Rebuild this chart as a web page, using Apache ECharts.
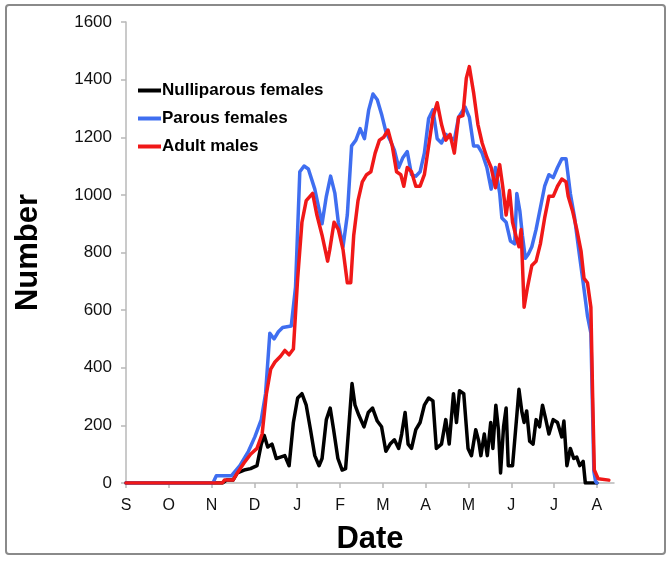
<!DOCTYPE html>
<html>
<head>
<meta charset="utf-8">
<script src="https://cdn.jsdelivr.net/npm/echarts@6/dist/echarts.min.js"></script>
<style>html,body{margin:0;padding:0;background:#fff;}#c{width:672px;height:561px;}</style>
</head>
<body>
<div id="c"></div>
<script>
var monthLabels = ['S','O','N','D','J','F','M','A','M','J','J','A'];
var seriesNames = ['Nulliparous females','Parous females','Adult males'];

// [month offset from 1 Sept, number]
var nulliparous = [[0,0],[2.25,0],[2.35,10],[2.5,10],[2.6,35],[2.76,45],[2.91,50],[3.06,60],[3.16,135],[3.23,165],[3.31,125],[3.41,135],[3.51,85],[3.61,90],[3.71,95],[3.81,60],[3.91,210],[4.01,295],[4.11,310],[4.21,270],[4.31,185],[4.41,95],[4.51,60],[4.58,85],[4.68,220],[4.77,260],[4.85,185],[4.95,85],[5.05,45],[5.13,50],[5.2,185],[5.28,345],[5.35,270],[5.44,235],[5.56,195],[5.66,245],[5.76,260],[5.87,215],[5.97,195],[6.07,110],[6.17,135],[6.27,150],[6.37,120],[6.44,170],[6.52,245],[6.59,135],[6.67,120],[6.77,185],[6.87,210],[6.97,270],[7.07,295],[7.17,285],[7.25,120],[7.37,135],[7.47,220],[7.55,135],[7.65,310],[7.72,210],[7.79,320],[7.89,310],[7.99,120],[8.07,95],[8.17,185],[8.24,145],[8.29,95],[8.37,170],[8.44,95],[8.52,210],[8.57,120],[8.64,270],[8.7,185],[8.75,35],[8.82,195],[8.88,260],[8.93,60],[9.03,60],[9.13,235],[9.18,325],[9.25,245],[9.3,210],[9.36,250],[9.43,145],[9.51,135],[9.58,220],[9.66,195],[9.73,270],[9.8,225],[9.88,170],[9.98,220],[10.08,210],[10.18,160],[10.23,215],[10.3,60],[10.38,120],[10.46,85],[10.53,90],[10.6,60],[10.68,75],[10.73,0],[11.0,0]];

var parous = [[0,0],[2.03,0],[2.11,25],[2.46,25],[2.66,60],[2.86,110],[3.01,160],[3.16,220],[3.26,310],[3.36,520],[3.46,500],[3.56,525],[3.66,540],[3.86,545],[3.96,680],[4.06,1080],[4.16,1100],[4.26,1090],[4.41,1020],[4.51,950],[4.58,900],[4.68,995],[4.78,1065],[4.88,1005],[4.96,905],[5.07,820],[5.17,930],[5.27,1170],[5.37,1190],[5.47,1230],[5.57,1195],[5.67,1295],[5.77,1350],[5.87,1330],[5.97,1280],[6.07,1220],[6.17,1190],[6.27,1155],[6.37,1095],[6.47,1130],[6.57,1150],[6.67,1070],[6.77,1065],[6.87,1080],[6.97,1145],[7.07,1265],[7.17,1295],[7.27,1195],[7.37,1180],[7.47,1210],[7.57,1200],[7.67,1190],[7.77,1270],[7.92,1305],[8.02,1270],[8.12,1170],[8.22,1170],[8.32,1145],[8.43,1095],[8.53,1020],[8.63,1095],[8.73,1005],[8.78,920],[8.88,905],[8.98,840],[9.08,830],[9.13,1005],[9.2,945],[9.26,860],[9.33,780],[9.4,795],[9.48,820],[9.58,880],[9.68,955],[9.78,1030],[9.88,1070],[9.98,1060],[10.08,1095],[10.18,1125],[10.28,1125],[10.38,1005],[10.48,920],[10.58,805],[10.68,695],[10.78,580],[10.86,520],[10.93,40],[10.97,5],[11.0,0]];

var adultMales = [[0,0],[2.25,0],[2.3,10],[2.5,10],[2.6,35],[2.76,70],[2.91,100],[3.06,120],[3.18,170],[3.28,310],[3.38,395],[3.48,420],[3.61,440],[3.71,460],[3.81,445],[3.91,465],[4.01,710],[4.11,905],[4.21,980],[4.36,1005],[4.46,930],[4.58,860],[4.71,770],[4.76,810],[4.86,905],[4.96,880],[5.07,810],[5.17,695],[5.25,695],[5.32,860],[5.42,980],[5.52,1045],[5.62,1070],[5.72,1080],[5.82,1145],[5.92,1190],[6.02,1200],[6.12,1225],[6.22,1170],[6.32,1080],[6.42,1070],[6.49,1030],[6.57,1095],[6.67,1080],[6.77,1030],[6.87,1030],[6.97,1070],[7.07,1170],[7.17,1270],[7.27,1320],[7.37,1245],[7.47,1190],[7.57,1210],[7.67,1145],[7.77,1270],[7.87,1275],[7.95,1405],[8.02,1445],[8.12,1355],[8.22,1245],[8.32,1180],[8.43,1130],[8.53,1095],[8.63,1025],[8.73,1105],[8.8,1030],[8.88,930],[8.96,1015],[9.03,905],[9.13,845],[9.18,820],[9.23,880],[9.3,610],[9.38,680],[9.48,755],[9.58,770],[9.68,830],[9.78,920],[9.88,995],[9.98,995],[10.08,1030],[10.18,1055],[10.28,1045],[10.33,995],[10.43,945],[10.53,880],[10.63,805],[10.7,710],[10.78,695],[10.86,610],[10.9,310],[10.94,45],[11.03,15],[11.28,10]];

var yTicks = {min:0, max:1600, interval:200};

var chart = echarts.init(document.getElementById('c'), null, {renderer:'canvas'});
var fontFam = '"Liberation Sans", Arial, sans-serif';
var lineStyleOf = function(c){ return {color:c, width:3.5, join:'round', cap:'round'}; };
chart.setOption({
  animation:false,
  backgroundColor:'#fff',
  graphic:[{type:'rect', shape:{x:6,y:5,width:659,height:549,r:3}, style:{fill:'none', stroke:'#8a8a8a', lineWidth:2}, z:-1}],
  grid:{left:126, right:58, top:22, bottom:78, containLabel:false, outerBoundsMode:'none'},
  legend:{
    orient:'vertical', left:133, top:77, itemGap:11,
    itemWidth:23, itemHeight:4, icon:'rect',
    textStyle:{fontFamily:fontFam, fontSize:17, fontWeight:'bold', color:'#000', padding:[0,0,0,-4]},
    data:seriesNames
  },
  xAxis:{
    type:'value', min:0, max:11.4, interval:1,
    name:'Date', nameLocation:'middle', nameGap:41,
    nameTextStyle:{fontFamily:fontFam, fontSize:31, fontWeight:'bold', color:'#000'},
    axisLine:{show:true, lineStyle:{color:'#b8b8b8', width:1.5}},
    axisTick:{show:true, length:5, lineStyle:{color:'#b8b8b8', width:1.5}},
    splitLine:{show:false},
    axisLabel:{fontFamily:fontFam, fontSize:16, color:'#111', margin:15, showMaxLabel:false,
      formatter:function(v){ var i=Math.round(v); return Math.abs(v-i)<1e-6 && monthLabels[i]!==undefined ? monthLabels[i] : ''; }}
  },
  yAxis:{
    type:'value', min:yTicks.min, max:yTicks.max, interval:yTicks.interval,
    name:'Number', nameLocation:'middle', nameGap:82, nameRotate:90,
    nameTextStyle:{fontFamily:fontFam, fontSize:31, fontWeight:'bold', color:'#000'},
    axisLine:{show:true, lineStyle:{color:'#b8b8b8', width:1.5}},
    axisTick:{show:true, length:5, lineStyle:{color:'#b8b8b8', width:1.5}},
    splitLine:{show:false},
    axisLabel:{fontFamily:fontFam, fontSize:17, color:'#111', margin:14, formatter:function(v){ return String(v); }}
  },
  series:[
    {name:seriesNames[0], type:'line', data:nulliparous, showSymbol:false, symbol:'none', color:'#000', lineStyle:lineStyleOf('#000'), z:2},
    {name:seriesNames[1], type:'line', data:parous, showSymbol:false, symbol:'none', color:'#3f6ef0', lineStyle:lineStyleOf('#3f6ef0'), z:3},
    {name:seriesNames[2], type:'line', data:adultMales, showSymbol:false, symbol:'none', color:'#f01818', lineStyle:lineStyleOf('#f01818'), z:4}
  ]
});
</script>
</body>
</html>
